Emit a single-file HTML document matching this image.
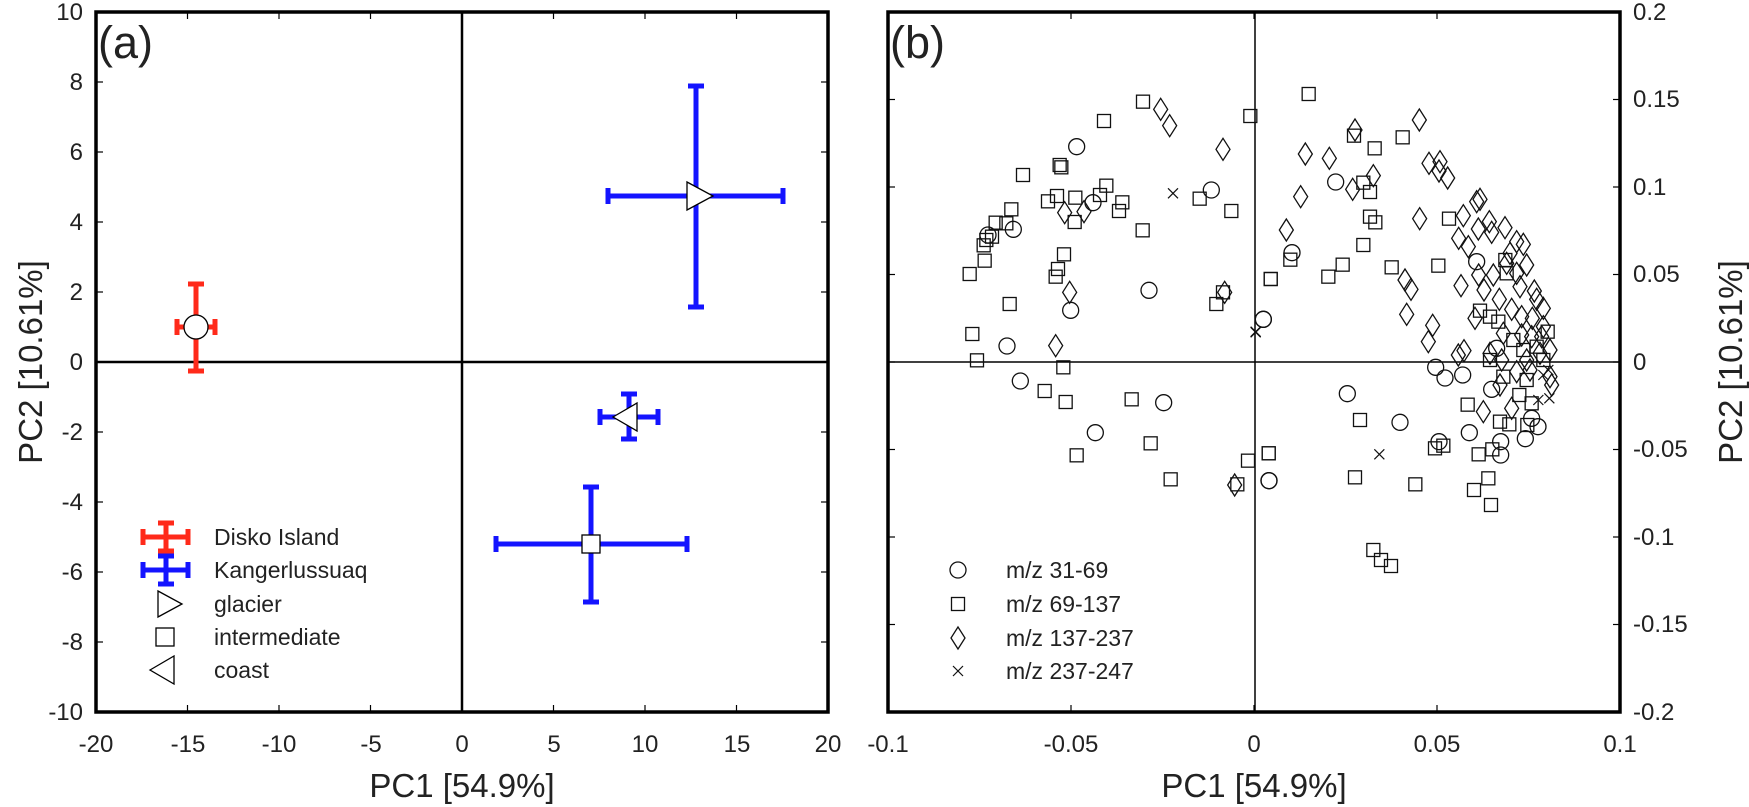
<!DOCTYPE html>
<html><head><meta charset="utf-8"><style>
html,body{margin:0;padding:0;background:#fff;}
svg{display:block;font-family:"Liberation Sans",Arial,sans-serif;}
</style></head><body>
<svg id="s" width="1749" height="807" viewBox="0 0 1749 807" xmlns="http://www.w3.org/2000/svg">
<rect width="1749" height="807" fill="#fff"/>
<g id="a"></g>
<g id="b"></g>
<g font-size="24" fill="#222" text-anchor="end">
<text x="83" y="20">10</text><text x="83" y="90">8</text><text x="83" y="160">6</text><text x="83" y="230">4</text><text x="83" y="300">2</text><text x="83" y="370">0</text><text x="83" y="440">-2</text><text x="83" y="510">-4</text><text x="83" y="580">-6</text><text x="83" y="650">-8</text><text x="83" y="720">-10</text>
</g>
<g font-size="24" fill="#222" text-anchor="middle">
<text x="96" y="752">-20</text><text x="188" y="752">-15</text><text x="279" y="752">-10</text><text x="371" y="752">-5</text><text x="462" y="752">0</text><text x="554" y="752">5</text><text x="645" y="752">10</text><text x="737" y="752">15</text><text x="828" y="752">20</text>
<text x="888" y="752">-0.1</text><text x="1071" y="752">-0.05</text><text x="1254" y="752">0</text><text x="1437" y="752">0.05</text><text x="1620" y="752">0.1</text>
</g>
<g font-size="24" fill="#222" text-anchor="start">
<text x="1633" y="20">0.2</text><text x="1633" y="107">0.15</text><text x="1633" y="195">0.1</text><text x="1633" y="282">0.05</text><text x="1633" y="370">0</text><text x="1633" y="457">-0.05</text><text x="1633" y="545">-0.1</text><text x="1633" y="632">-0.15</text><text x="1633" y="720">-0.2</text>
</g>
<g font-size="33" fill="#222" text-anchor="middle">
<text x="462" y="797">PC1 [54.9%]</text>
<text x="1254" y="797">PC1 [54.9%]</text>
<text transform="translate(42,362) rotate(-90)">PC2 [10.61%]</text>
<text transform="translate(1742,362) rotate(-90)">PC2 [10.61%]</text>
</g>
<text x="98" y="58" font-size="45" fill="#222">(a)</text>
<text x="890" y="58" font-size="45" fill="#222">(b)</text>
<g font-size="23" fill="#222">
<text x="214" y="545">Disko Island</text>
<text x="214" y="578">Kangerlussuaq</text>
<text x="214" y="612">glacier</text>
<text x="214" y="645">intermediate</text>
<text x="214" y="678">coast</text>
<text x="1006" y="578">m/z 31-69</text>
<text x="1006" y="612">m/z 69-137</text>
<text x="1006" y="646">m/z 137-237</text>
<text x="1006" y="679">m/z 237-247</text>
</g>
</svg>
<script>
var NS="http://www.w3.org/2000/svg";
function el(p,t,a){var e=document.createElementNS(NS,t);for(var k in a)e.setAttribute(k,a[k]);p.appendChild(e);return e;}
var A=document.getElementById('a'),B=document.getElementById('b');
for(var i=-20;i<=20;i+=5){var x=462+i*18.3;el(A,'line',{x1:x,y1:712,x2:x,y2:705,stroke:'#000','stroke-width':1.2});el(A,'line',{x1:x,y1:12,x2:x,y2:19,stroke:'#000','stroke-width':1.2});}
for(var j=-10;j<=10;j+=2){var y=362-j*35;el(A,'line',{x1:96,y1:y,x2:103,y2:y,stroke:'#000','stroke-width':1.2});el(A,'line',{x1:828,y1:y,x2:821,y2:y,stroke:'#000','stroke-width':1.2});}
el(A,'line',{x1:96,y1:362,x2:828,y2:362,stroke:'#000','stroke-width':2.5});
el(A,'line',{x1:462,y1:12,x2:462,y2:712,stroke:'#000','stroke-width':2.5});
function eb(g,cx,cy,x1,x2,y1,y2,c){
 el(g,'line',{x1:x1,y1:cy,x2:x2,y2:cy,stroke:c,'stroke-width':5});
 el(g,'line',{x1:cx,y1:y1,x2:cx,y2:y2,stroke:c,'stroke-width':5});
 el(g,'line',{x1:x1,y1:cy-8,x2:x1,y2:cy+8,stroke:c,'stroke-width':5});
 el(g,'line',{x1:x2,y1:cy-8,x2:x2,y2:cy+8,stroke:c,'stroke-width':5});
 el(g,'line',{x1:cx-8,y1:y1,x2:cx+8,y2:y1,stroke:c,'stroke-width':5});
 el(g,'line',{x1:cx-8,y1:y2,x2:cx+8,y2:y2,stroke:c,'stroke-width':5});
}
var R='#ff2a1a',BL='#1414ff';
eb(A,196,327,177,215,284,371,R);
el(A,'ellipse',{cx:196,cy:327,rx:12,ry:12,fill:'#fff',stroke:'#000','stroke-width':1.3});
eb(A,696,196,608,783,86,307,BL);
el(A,'polygon',{points:'687,182 713,196 687,210',fill:'#fff',stroke:'#000','stroke-width':1.3});
eb(A,629,417,600,658,394,439,BL);
el(A,'polygon',{points:'613,417 637,403 637,431',fill:'#fff',stroke:'#000','stroke-width':1.3});
eb(A,591,544,496,687,487,602,BL);
el(A,'rect',{x:582,y:535,width:18,height:18,fill:'#fff',stroke:'#000','stroke-width':1.3});
eb(A,166,537,143,188,523,551,R);
eb(A,166,570,143,188,556,584,BL);
el(A,'polygon',{points:'158,591 182,604 158,617',fill:'#fff',stroke:'#000','stroke-width':1.3});
el(A,'rect',{x:156,y:628,width:18,height:18,fill:'#fff',stroke:'#000','stroke-width':1.3});
el(A,'polygon',{points:'150,670 174,656 174,684',fill:'#fff',stroke:'#000','stroke-width':1.3});
el(A,'rect',{x:96,y:12,width:732,height:700,fill:'none',stroke:'#000','stroke-width':3.5});
for(var i=0;i<=4;i++){var x=888+i*183;el(B,'line',{x1:x,y1:712,x2:x,y2:705,stroke:'#000','stroke-width':1.2});el(B,'line',{x1:x,y1:12,x2:x,y2:19,stroke:'#000','stroke-width':1.2});}
for(var j=0;j<=8;j++){var y=12+j*87.5;el(B,'line',{x1:888,y1:y,x2:895,y2:y,stroke:'#000','stroke-width':1.2});el(B,'line',{x1:1620,y1:y,x2:1613,y2:y,stroke:'#000','stroke-width':1.2});}
el(B,'line',{x1:888,y1:362,x2:1620,y2:362,stroke:'#000','stroke-width':1.5});
el(B,'line',{x1:1255,y1:12,x2:1255,y2:712,stroke:'#000','stroke-width':1.5});
function mk(t,x,y){
 var st={fill:'none',stroke:'#111','stroke-width':1.3};
 if(t=='c'){st.cx=x;st.cy=y;st.r=8;el(B,'circle',st);}
 else if(t=='s'){st.x=x-6.5;st.y=y-6.5;st.width=13;st.height=13;el(B,'rect',st);}
 else if(t=='d'){st.points=(x)+','+(y-11)+' '+(x+7)+','+y+' '+(x)+','+(y+11)+' '+(x-7)+','+y;el(B,'polygon',st);}
 else {el(B,'line',{x1:x-5,y1:y-5,x2:x+5,y2:y+5,stroke:'#111','stroke-width':1.2});el(B,'line',{x1:x-5,y1:y+5,x2:x+5,y2:y-5,stroke:'#111','stroke-width':1.2});}
}
var z7={s:[[765,125],[648,183],[1087,168],[515,315],[520,322],[405,345],[480,424],[507,408],[562,413],[655,377],[636,405],[703,427],[693,453],[560,486],[370,448],[355,490],[323,488],[312,530],[295,540],[287,556],[290,602],[245,642],[764,511],[528,583],[510,627],[503,650],[365,732],[253,822],[267,901],[935,416],[1030,453],[985,732],[1005,697],[1148,657],[526,922],[470,993],[533,1026],[731,1018],[788,1150],[566,1186],[848,1258],[1080,1202],[1142,1180],[1048,1273]],
c:[[566,260],[376,508],[300,525],[615,428],[970,390],[783,691],[548,751],[357,858],[397,963],[622,1118],[827,1028],[1126,778],[1143,1262]],
d:[[818,148],[845,197],[1005,268],[530,458],[588,455],[545,697],[1010,697],[503,857],[1040,1275]],
x:[[855,400],[1103,815]]};
var z8={s:[[176,102],[312,227],[458,232],[374,265],[340,368],[360,396],[360,470],[376,487],[340,555],[597,476],[278,614],[235,650],[62,657],[121,599],[425,622],[565,617],[653,1034],[330,1080],[56,1180],[315,1252],[496,1273],[555,1165],[580,1157],[686,1183],[727,1168],[715,1255],[672,1290],[723,1335],[370,1470],[745,785],[720,770],[690,752],[750,1085],[778,1093],[832,1095],[845,1030],[808,1005],[893,815],[766,600],[770,640],[820,870],[790,840],[860,860],[880,900],[830,960],[760,950],[720,900]],
c:[[257,366],[126,578],[40,778],[557,922],[585,954],[638,945],[292,1001],[450,1087],[658,1118],[725,988],[57,1262],[752,1145],[752,1185],[826,1136],[864,1100],[845,1075],[680,605],[740,865],[567,1145]],
d:[[508,180],[315,210],[166,282],[238,295],[370,347],[308,388],[152,410],[109,510],[509,476],[537,310],[570,305],[567,333],[593,354],[465,660],[483,688],[470,763],[548,796],[535,845],[625,885],[642,872],[640,467],[690,418],[680,425],[633,677],[626,535],[655,560],[685,507],[718,485],[725,517],[765,503],[800,545],[820,553],[830,615],[770,610],[800,640],[686,645],[702,690],[730,645],[748,718],[675,775],[785,748],[815,770],[853,693],[847,775],[880,745],[860,718],[815,825],[845,830],[720,880],[755,900],[750,975],[800,935],[840,930],[900,870],[900,950],[905,975],[785,1045],[700,1055],[870,880],[875,830],[780,580],[810,680],[760,820],[880,800],[830,900]],
x:[[17,817],[388,1183],[895,930],[865,1020],[898,1015],[880,945]]};
for(var t in z7)z7[t].forEach(function(p){mk(t,888+p[0]/3,60+p[1]/3);});
for(var t in z8)z8[t].forEach(function(p){mk(t,1250+p[0]/3,60+p[1]/3);});
mk('s',1381,560);mk('s',1391,566);
mk('c',958,570);mk('s',958,604);mk('d',958,638);mk('x',958,671);
el(B,'rect',{x:888,y:12,width:732,height:700,fill:'none',stroke:'#000','stroke-width':3.5});
</script>
</body></html>
